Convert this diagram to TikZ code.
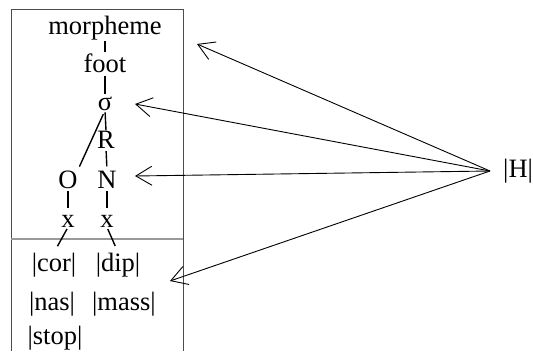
\documentclass[tikz,border=0pt]{standalone}
\usepackage{fontspec}
\setmainfont{Liberation Serif}
\usetikzlibrary{arrows.meta}
\begin{document}
\begin{tikzpicture}[x=1pt,y=-1pt,
  lab/.style={inner sep=0pt, anchor=base, font=\fontsize{26.5}{31}\selectfont},
  tl/.style={line width=1.4pt},
  arr/.style={line width=0.9pt, -{Straight Barb[length=16pt,width=19pt,line width=0.9pt]}}
]
\useasboundingbox (0,0) rectangle (533,351);
\draw[line width=1pt, black!70] (11,351) -- (11,9) -- (183,9) -- (183,351);
\draw[line width=1.5pt, black!40] (11,239) -- (183,239);

\node[lab] (morph) at (105,34) {morpheme};
\node[lab] (foot) at (105,72) {foot};
\node[lab] (sig) at (105,110) {σ};
\node[lab] (R) at (106,148) {R};
\node[lab] (O) at (68,188) {O};
\node[lab] (N) at (107,188) {N};
\node[lab] (x1) at (68,227) {x};
\node[lab] (x2) at (107,227) {x};
\node[lab] (cor) at (54,271) {|cor|};
\node[lab] (dip) at (118,271) {|dip|};
\node[lab] (nas) at (52,310) {|nas|};
\node[lab] (mass) at (124,310) {|mass|};
\node[lab] (stop) at (55,344) {|stop|};
\node[lab, anchor=west, inner xsep=13pt] (H) at (490,171) {|H|};

\draw[tl, shorten <=1pt, shorten >=1pt] (morph.south) -- (foot.north);
\draw[tl, shorten <=4pt, shorten >=2pt] (foot.south) -- (sig.north);
\draw[tl, shorten <=2pt] (sig.south) -- (R.north);
\draw[tl, shorten <=4pt, shorten >=4pt] (sig.south) -- (O.north east);
\draw[tl, shorten <=3pt, shorten >=4pt] (R.south) -- (N.north);
\draw[tl, shorten <=3pt, shorten >=7pt] (O.south) -- (x1.north);
\draw[tl, shorten <=3pt, shorten >=7pt] (N.south) -- (x2.north);
\draw[tl, shorten <=2pt, shorten >=7pt] (x1.south) -- (cor.north);
\draw[tl, shorten <=2pt, shorten >=7pt] (x2.south) -- (dip.north);

\coordinate (tm) at (197,44);
\coordinate (ts) at (135,104);
\coordinate (tn) at (135,176);
\coordinate (tf) at (170,281);
\draw[arr] (H.west) -- (tm);
\draw[arr] (H.west) -- (ts);
\draw[arr] (H.west) -- (tn);
\draw[arr] (H.west) -- (tf);
\end{tikzpicture}
\end{document}
